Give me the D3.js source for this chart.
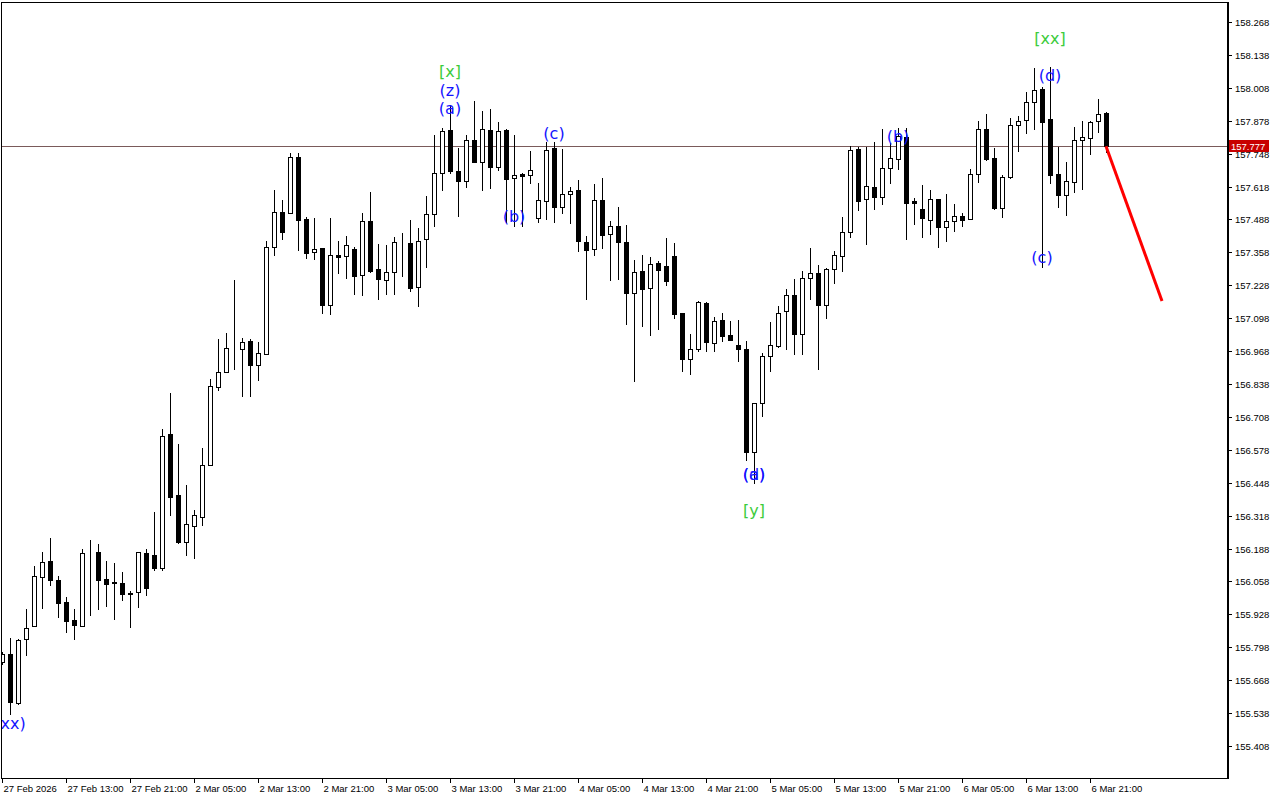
<!DOCTYPE html>
<html><head><meta charset="utf-8">
<script src="https://cdn.jsdelivr.net/npm/d3@7"></script>
<style>body{margin:0;background:#fff}svg{display:block}</style>
</head><body><svg id="c" width="1280" height="800"></svg>
<script>
// ---- data: hourly bars, index 0 = 27 Feb 2026 05:00 ----
const opens = [
155.740,155.770,155.578,155.829,155.883,156.076,156.137,156.062,155.976,155.905,
155.883,156.177,156.174,156.067,156.055,156.051,156.014,156.015,156.170,156.162,
156.111,156.640,156.399,156.212,156.279,156.313,156.519,156.827,156.884,156.976,
156.975,157.006,156.914,156.955,157.378,157.517,157.512,157.735,157.490,157.358,
157.375,157.149,157.347,157.342,157.371,157.267,157.482,157.292,157.247,157.279,
157.398,157.394,157.222,157.412,157.511,157.670,157.841,157.679,157.639,157.802,
157.714,157.841,157.694,157.842,157.652,157.666,157.662,157.492,157.560,157.769,
157.537,157.587,157.604,157.399,157.372,157.565,157.429,157.462,157.399,157.198,
157.284,157.216,157.315,157.303,157.342,157.117,156.935,156.975,157.158,157.000,
157.089,157.030,156.991,156.976,156.568,156.761,156.947,156.989,157.125,157.188,
157.036,157.255,157.276,157.149,157.291,157.345,157.437,157.765,157.567,157.615,
157.578,157.690,157.728,157.814,157.561,157.529,157.484,157.569,157.459,157.481,
157.501,157.488,157.666,157.845,157.731,157.532,157.654,157.860,157.880,157.951,
158.003,157.885,157.667,157.583,157.637,157.803,157.811,157.876,157.908];
const highs = [
155.779,155.833,155.830,155.949,156.119,156.174,156.229,156.079,155.996,155.949,
156.185,156.221,156.205,156.138,156.130,156.095,156.020,156.174,156.188,156.332,
156.660,156.802,156.601,156.439,156.340,156.586,156.856,157.015,157.039,157.249,
157.018,157.015,157.002,157.403,157.604,157.565,157.749,157.749,157.496,157.494,
157.375,157.494,157.403,157.421,157.378,157.513,157.596,157.392,157.387,157.420,
157.434,157.486,157.454,157.581,157.822,157.849,157.940,157.770,157.822,157.956,
157.916,157.924,157.872,157.845,157.820,157.673,157.758,157.631,157.793,157.793,
157.765,157.617,157.644,157.422,157.628,157.652,157.482,157.537,157.466,157.328,
157.347,157.339,157.325,157.415,157.395,157.119,157.035,157.164,157.163,157.102,
157.118,157.087,157.091,157.006,156.761,156.959,157.083,157.146,157.213,157.251,
157.285,157.375,157.309,157.296,157.362,157.498,157.778,157.773,157.774,157.794,
157.845,157.790,157.849,157.849,157.573,157.624,157.604,157.569,157.588,157.549,
157.512,157.687,157.877,157.904,157.770,157.663,157.889,157.895,157.991,158.086,
158.010,158.089,157.775,157.715,157.853,157.877,157.877,157.964,157.912];
const lows = [
155.731,155.533,155.573,155.768,155.883,155.954,156.043,155.918,155.858,155.829,
155.883,155.925,155.949,155.962,155.909,155.984,155.879,155.958,156.005,156.103,
156.103,156.321,156.208,156.162,156.151,156.282,156.519,156.814,156.884,156.897,
156.790,156.790,156.853,156.955,157.349,157.412,157.512,157.368,157.337,157.330,
157.119,157.113,157.277,157.255,157.192,157.191,157.281,157.174,157.194,157.194,
157.264,157.206,157.147,157.299,157.463,157.603,157.670,157.500,157.615,157.714,
157.603,157.611,157.683,157.478,157.463,157.463,157.633,157.477,157.488,157.478,
157.512,157.473,157.364,157.175,157.349,157.375,157.250,157.254,157.076,156.851,
157.068,157.032,157.056,157.230,157.100,156.890,156.878,156.969,156.967,156.967,
157.009,157.010,156.930,156.537,156.445,156.712,156.890,156.985,156.977,156.957,
156.957,157.175,156.896,157.100,157.238,157.285,157.420,157.526,157.392,157.530,
157.550,157.633,157.688,157.412,157.471,157.420,157.432,157.380,157.404,157.443,
157.462,157.488,157.636,157.724,157.530,157.499,157.650,157.759,157.831,157.846,
157.301,157.633,157.538,157.507,157.598,157.609,157.748,157.835,157.753];
const closes = [
155.770,155.582,155.826,155.876,156.079,156.133,156.063,155.974,155.902,155.887,
156.170,156.177,156.063,156.049,156.050,156.009,156.010,156.173,156.033,156.112,
156.631,156.392,156.215,156.284,156.319,156.520,156.830,156.884,156.979,156.976,
157.002,156.914,156.959,157.379,157.517,157.439,157.735,157.484,157.356,157.371,
157.149,157.346,157.338,157.386,157.266,157.482,157.285,157.251,157.279,157.398,
157.398,157.218,157.403,157.508,157.670,157.837,157.678,157.639,157.802,157.714,
157.844,157.696,157.837,157.648,157.665,157.660,157.682,157.564,157.762,157.536,
157.587,157.599,157.404,157.368,157.564,157.428,157.461,157.398,157.198,157.280,
157.214,157.311,157.289,157.246,157.115,156.938,156.975,157.162,157.002,157.085,
157.028,157.010,156.975,156.568,156.761,156.947,156.991,157.117,157.188,157.036,
157.255,157.275,157.151,157.292,157.346,157.437,157.761,157.562,157.619,157.578,
157.690,157.729,157.818,157.554,157.554,157.495,157.569,157.459,157.481,157.500,
157.487,157.667,157.845,157.727,157.533,157.656,157.860,157.876,157.952,157.999,
157.872,157.665,157.586,157.639,157.801,157.814,157.873,157.903,157.777];

const xTickLabels = ["27 Feb 2026","27 Feb 13:00","27 Feb 21:00","2 Mar 05:00","2 Mar 13:00","2 Mar 21:00",
  "3 Mar 05:00","3 Mar 13:00","3 Mar 21:00","4 Mar 05:00","4 Mar 13:00","4 Mar 21:00",
  "5 Mar 05:00","5 Mar 13:00","5 Mar 21:00","6 Mar 05:00","6 Mar 13:00","6 Mar 21:00"];
const xTickStep = 8;
const yTickValues = [158.268,158.138,158.008,157.878,157.748,157.618,157.488,157.358,157.228,157.098,
  156.968,156.838,156.708,156.578,156.448,156.318,156.188,156.058,155.928,155.798,155.668,155.538,155.408];
const bidPrice = 157.777;
const forecastIdx = [138, 145];
const forecastPrice = [157.777, 157.166];

const labelIdx   = [1, 56, 56, 56, 69, 64, 94, 94, 94, 112, 131, 131, 130];
const labelPrice = [155.498,158.074,157.999,157.928,157.829,157.501,156.482,156.482,156.340,157.814,158.201,158.055,157.336];
const labelText  = ["(xx)","[x]","(z)","(a)","(c)","(b)","(d)","(a)","[y]","(b)","[xx]","(d)","(c)"];
const labelDegree= ["minor","major","minor","minor","minor","minor","minor","minor","major","minor","major","minor","minor"];

// ---- drawing ----
const svg = d3.select("#c");
const plotL = 1, plotT = 2, plotR = 1227, plotB = 778;
const x = d3.scaleLinear().domain([0, 152]).range([2, 2 + 152 * 8]);
const y = d3.scaleLinear().domain([155.408, 158.268]).range([746, 22]);

svg.append("rect").attr("width",1280).attr("height",800).attr("fill","#fff");

const g = svg.append("g");
const clip = svg.append("clipPath").attr("id","plot").append("rect")
  .attr("x",plotL).attr("y",plotT).attr("width",plotR-plotL).attr("height",plotB-plotT);
const plot = g.append("g").attr("clip-path","url(#plot)");

// bid line
plot.append("line").attr("x1",plotL).attr("x2",plotR)
  .attr("y1",Math.round(y(bidPrice))+0.5).attr("y2",Math.round(y(bidPrice))+0.5)
  .attr("stroke","#7a5a5a").attr("stroke-width",1);

const bars = d3.range(opens.length).map(i => ({i,o:opens[i],h:highs[i],l:lows[i],c:closes[i]}));
const cg = plot.append("g");
bars.forEach(d => {
  const cx = Math.round(x(d.i));
  cg.append("line").attr("x1",cx+0.5).attr("x2",cx+0.5)
    .attr("y1",Math.round(y(d.h))).attr("y2",Math.round(y(d.l))+1)
    .attr("stroke","#000").attr("stroke-width",1);
  const top = Math.round(y(Math.max(d.o,d.c)));
  const bot = Math.round(y(Math.min(d.o,d.c)));
  const bull = d.c >= d.o;
  cg.append("rect").attr("x",cx-1.5).attr("y",top+0.5)
    .attr("width",4).attr("height",Math.max(0,bot-top))
    .attr("fill",bull?"#fff":"#000").attr("stroke","#000").attr("stroke-width",1);
});

// forecast line
plot.append("line")
  .attr("x1",x(forecastIdx[0])).attr("y1",y(forecastPrice[0]))
  .attr("x2",x(forecastIdx[1])).attr("y2",y(forecastPrice[1]))
  .attr("stroke","#ff0000").attr("stroke-width",3);

// wave labels
const colorOf = {minor:"#1414ff", major:"#3ccc3c"};
labelText.forEach((t,k) => {
  g.append("text").attr("x",x(labelIdx[k])).attr("y",y(labelPrice[k]))
    .attr("text-anchor","middle").attr("dominant-baseline","central")
    .attr("font-family","DejaVu Sans, sans-serif").attr("font-size",16)
    .attr("fill",colorOf[labelDegree[k]]).text(t);
});

// frame
g.append("rect").attr("x",plotL+0.5).attr("y",plotT+0.5)
  .attr("width",plotR-plotL).attr("height",plotB-plotT)
  .attr("fill","none").attr("stroke","#000").attr("stroke-width",1);
g.append("line").attr("x1",plotR+1.5).attr("x2",plotR+1.5).attr("y1",plotT).attr("y2",plotB+1)
  .attr("stroke","#000");

// y axis
const ya = g.append("g");
yTickValues.forEach(v => {
  const yy = Math.round(y(v))+0.5;
  ya.append("line").attr("x1",plotR+1).attr("x2",plotR+5).attr("y1",yy).attr("y2",yy).attr("stroke","#000");
  ya.append("text").attr("x",plotR+8).attr("y",yy).attr("dominant-baseline","central")
    .attr("font-family","Liberation Sans, Arial, sans-serif").attr("font-size",9.5)
    .attr("fill","#000").text(v.toFixed(3));
});
// bid price tag
const by = Math.round(y(bidPrice));
ya.append("rect").attr("x",plotR+2).attr("y",by-6).attr("width",40).attr("height",12).attr("fill","#c80000");
ya.append("text").attr("x",plotR+4).attr("y",by).attr("dominant-baseline","central")
  .attr("font-family","Liberation Sans, Arial, sans-serif").attr("font-size",9.5)
  .attr("fill","#fff").text(bidPrice.toFixed(3));

// x axis
const xa = g.append("g");
xTickLabels.forEach((t,k) => {
  const xx = Math.round(x(k*xTickStep))+0.5;
  xa.append("line").attr("x1",xx).attr("x2",xx).attr("y1",plotB).attr("y2",plotB+5).attr("stroke","#000");
  xa.append("text").attr("x",xx+1).attr("y",plotB+14)
    .attr("font-family","Liberation Sans, Arial, sans-serif").attr("font-size",9.5)
    .attr("fill","#000").text(t);
});
</script></body></html>
